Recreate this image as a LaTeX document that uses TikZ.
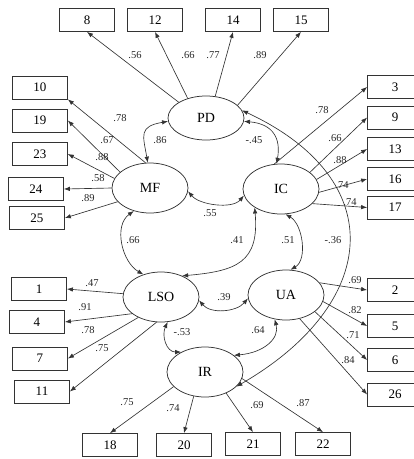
\documentclass[tikz,border=0pt]{standalone}
\usepackage{fontspec}
\setmainfont{Liberation Serif}
\usetikzlibrary{shapes.geometric,arrows.meta}
\tikzset{
  indic/.style={draw=black!80,line width=0.75pt,minimum width=55pt,minimum height=23pt,inner sep=0pt,font=\fontsize{13}{13}\selectfont},
  latent/.style={ellipse,draw=black!80,line width=0.75pt,minimum width=76pt,minimum height=50pt,inner sep=0pt,font=\fontsize{14}{14}\selectfont},
  loading/.style={draw=black!80,line width=0.65pt,-{Latex[length=6pt,width=4.5pt]}},
  cov/.style={draw=black!80,line width=0.65pt,{Latex[length=6pt,width=4.5pt]}-{Latex[length=6pt,width=4.5pt]}},
  coef/.style={font=\fontsize{10.5}{10.5}\selectfont,inner sep=1pt,text=black!85}
}
\begin{document}
\begin{tikzpicture}[x=1pt,y=1pt]
\useasboundingbox (0,0) rectangle (414,-459);
\node[latent,minimum height=44pt] (PD) at (206,-118) {PD};
\node[latent] (MF) at (150,-188) {MF};
\node[latent] (IC) at (281,-189) {IC};
\node[latent] (LSO) at (161,-297) {LSO};
\node[latent] (UA) at (286,-295) {UA};
\node[latent] (IR) at (205,-372) {IR};
\node[indic] (v8) at (87,-20) {8};
\node[indic] (v12) at (155,-20) {12};
\node[indic] (v14) at (233,-20) {14};
\node[indic] (v15) at (301,-20) {15};
\node[indic] (v10) at (40,-87.5) {10};
\node[indic] (v19) at (40,-120.5) {19};
\node[indic] (v23) at (40,-154) {23};
\node[indic] (v24) at (36,-189) {24};
\node[indic] (v25) at (37,-218) {25};
\node[indic] (v3) at (395,-87) {3};
\node[indic] (v9) at (395,-117.5) {9};
\node[indic] (v13) at (395,-149) {13};
\node[indic] (v16) at (395,-179) {16};
\node[indic] (v17) at (395,-207.5) {17};
\node[indic] (v1) at (39,-289) {1};
\node[indic] (v4) at (37,-322) {4};
\node[indic] (v7) at (40,-358.5) {7};
\node[indic] (v11) at (42,-391.5) {11};
\node[indic] (v2) at (395,-290) {2};
\node[indic] (v5) at (395,-326) {5};
\node[indic] (v6) at (395,-360) {6};
\node[indic] (v26) at (395,-394.5) {26};
\node[indic] (v18) at (110,-445) {18};
\node[indic] (v20) at (184,-445) {20};
\node[indic] (v21) at (253,-444) {21};
\node[indic] (v22) at (323,-444) {22};
\draw[loading] (PD.150) -- (v8.south);
\draw[loading] (PD.133) -- (v12.south);
\draw[loading] (PD.67) -- (v14.south);
\draw[loading] (PD.22) -- (v15.south);
\draw[loading] (MF.100) -- (v10.south east);
\draw[loading] (MF.152) -- (v19.east);
\draw[loading] (MF.165) -- (v23.east);
\draw[loading] (MF.180) -- (v24.east);
\draw[loading] (MF.203) -- (v25.east);
\draw[loading] (IC.105) -- (v3.west);
\draw[loading] (IC.30) -- (v9.west);
\draw[loading] (IC.15) -- (v13.west);
\draw[loading] (IC.-5) -- (v16.west);
\draw[loading] (IC.-25) -- (v17.west);
\draw[loading] (UA.20) -- (v2.west);
\draw[loading] (UA.-10) -- (v5.west);
\draw[loading] (UA.-30) -- (v6.west);
\draw[loading] (UA.-60) -- (v26.west);
\draw[loading] (LSO.175) -- (v1.east);
\draw[loading] (LSO.210) -- (v4.east);
\draw[loading] (LSO.222) -- (v7.east);
\draw[loading] (LSO.260) -- (v11.east);
\draw[loading] (IR.205) -- (v18.north);
\draw[loading] (IR.245) -- (v20.north);
\draw[loading] (IR.315) -- (v21.north);
\draw[loading] (IR.350) -- (v22.north);
\draw[cov] (PD.185) .. controls +(190:30) and +(100:28) .. (MF.95);
\draw[cov] (PD.355) .. controls +(-5:30) and +(80:25) .. (IC.100);
\draw[cov] (PD.12) .. controls +(-25:165) and +(30:165) .. (IR.335);
\draw[cov] (MF.355) .. controls +(-50:18) and +(230:18) .. (IC.190);
\draw[cov] (MF.235) .. controls +(215:25) and +(150:25) .. (LSO.128);
\draw[cov] (LSO.45) .. controls +(5:55) and +(275:55) .. (IC.215);
\draw[cov] (IC.280) .. controls +(-30:20) and +(30:20) .. (UA.80);
\draw[cov] (LSO.355) .. controls +(-50:18) and +(230:18) .. (UA.185);
\draw[cov] (LSO.285) .. controls +(245:15) and +(180:15) .. (IR.140);
\draw[cov] (UA.245) .. controls +(285:20) and +(5:30) .. (IR.30);
\node[coef] (c8) at (135,-55) {.56};
\node[coef] (c12) at (188,-55) {.66};
\node[coef] (c14) at (213,-55) {.77};
\node[coef] (c15) at (260,-55) {.89};
\node[coef] (c10) at (120,-118) {.78};
\node[coef] (c19) at (107,-140) {.67};
\node[coef] (c23) at (102,-157) {.88};
\node[coef] (c24) at (98,-178) {.58};
\node[coef] (c25) at (88,-198) {.89};
\node[coef] (c3) at (322,-110) {.78};
\node[coef] (c9) at (335,-138) {.66};
\node[coef] (c13) at (340,-160) {.88};
\node[coef] (c16) at (342,-185) {.74};
\node[coef] (c17) at (350,-202) {.74};
\node[coef] (c2) at (355,-280) {.69};
\node[coef] (c5) at (355,-310) {.82};
\node[coef] (c6) at (353,-335) {.71};
\node[coef] (c26) at (348,-360) {.84};
\node[coef] (c1) at (92,-283) {.47};
\node[coef] (c4) at (85,-307) {.91};
\node[coef] (c7) at (88,-330) {.78};
\node[coef] (c11) at (102,-348) {.75};
\node[coef] (c18) at (127,-402) {.75};
\node[coef] (c20) at (173,-408) {.74};
\node[coef] (c21) at (257,-405) {.69};
\node[coef] (c22) at (303,-403) {.87};
\node[coef] (cPDMF) at (160,-140) {.86};
\node[coef] (cPDIC) at (254,-140) {-.45};
\node[coef] (cMFIC) at (210,-213) {.55};
\node[coef] (cMFLSO) at (133,-240) {.66};
\node[coef] (cLSOIC) at (237,-240) {.41};
\node[coef] (cICUA) at (288,-240) {.51};
\node[coef] (cPDIR) at (333,-240) {-.36};
\node[coef] (cLSOUA) at (224,-297) {.39};
\node[coef] (cLSOIR) at (182,-332) {-.53};
\node[coef] (cUAIR) at (258,-330) {.64};
\end{tikzpicture}
\end{document}
